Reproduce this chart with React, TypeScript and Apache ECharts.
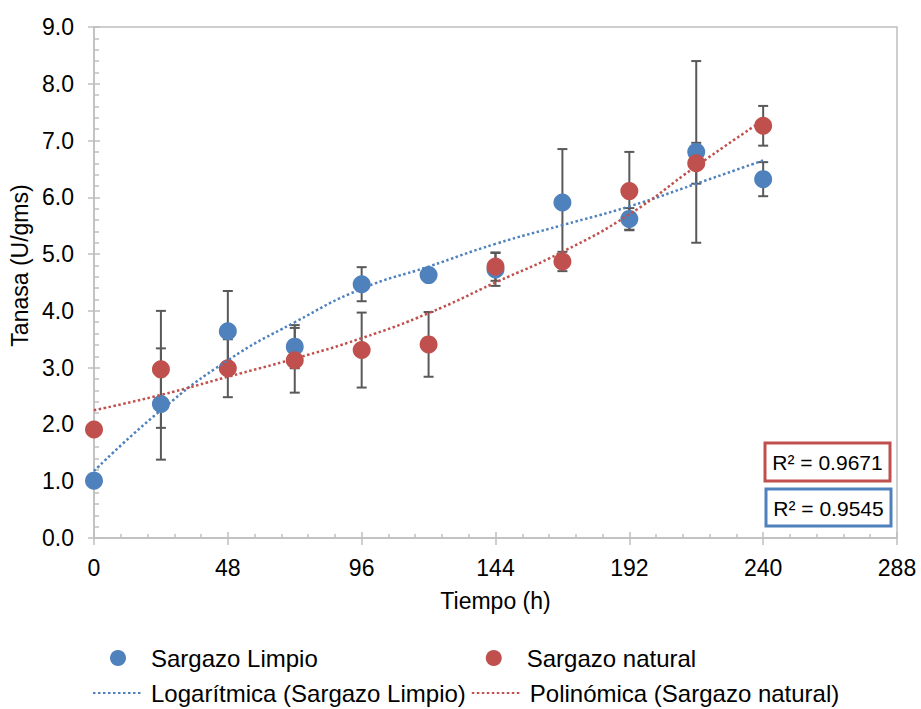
import React, { useEffect, useRef } from "react";
import * as echarts from "echarts";

const hours = [0, 24, 48, 72, 96, 120, 144, 168, 192, 216, 240];
const limpioValues = [1.01, 2.36, 3.64, 3.37, 4.47, 4.63, 4.73, 5.91, 5.62, 6.8, 6.32];
const limpioErrors = [0.05, 0.98, 0.71, 0.38, 0.3, 0.1, 0.29, 0.94, 0.19, 1.6, 0.3];
const naturalValues = [1.91, 2.97, 2.99, 3.13, 3.31, 3.41, 4.78, 4.87, 6.11, 6.6, 7.26];
const naturalErrors = [0.05, 1.03, 0.51, 0.57, 0.66, 0.57, 0.25, 0.17, 0.69, 0.36, 0.35];

// trend lines
const trendHours = [0, 24, 48, 72, 96, 120, 144, 168, 192, 216, 240];
const logTrendLimpio = [1.18, 2.25, 3.13, 3.8, 4.39, 4.78, 5.18, 5.51, 5.84, 6.24, 6.65];
const polyTrendNatural = [2.25, 2.52, 2.84, 3.16, 3.52, 3.96, 4.5, 5.04, 5.7, 6.55, 7.36];

const xTicks = { min: 0, max: 288, interval: 48 };
const yTicks = { min: 0, max: 9, interval: 1 };

const r2Natural = "R² = 0.9671";
const r2Limpio = "R² = 0.9545";

const nameLimpio = "Sargazo Limpio";
const nameNatural = "Sargazo natural";
const nameLog = "Logarítmica (Sargazo Limpio)";
const namePoly = "Polinómica (Sargazo natural)";

const BLUE = "#4F81BD";
const RED = "#C0504D";
const AXIS = "#BFBFBF";
const FONT = "'Liberation Sans', Arial, sans-serif";

function errRender(params: any, api: any) {
  const x = api.value(0);
  const y = api.value(1);
  const e = api.value(2);
  const top = api.coord([x, y + e]);
  const bot = api.coord([x, y - e]);
  const cap = 5;
  const style = { stroke: "#595959", lineWidth: 2 };
  return {
    type: "group",
    children: [
      { type: "line", shape: { x1: top[0], y1: top[1], x2: bot[0], y2: bot[1] }, style },
      { type: "line", shape: { x1: top[0] - cap, y1: top[1], x2: top[0] + cap, y2: top[1] }, style },
      { type: "line", shape: { x1: bot[0] - cap, y1: bot[1], x2: bot[0] + cap, y2: bot[1] }, style },
    ],
  };
}

export default function App() {
  const ref = useRef<HTMLDivElement>(null);
  useEffect(() => {
    if (!ref.current) return;
    const chart = echarts.init(ref.current, null, { renderer: "svg" });
    const limpioPts = hours.map((h, i) => [h, limpioValues[i]]);
    const naturalPts = hours.map((h, i) => [h, naturalValues[i]]);
    const limpioErr = hours.map((h, i) => [h, limpioValues[i], limpioErrors[i]]);
    const naturalErr = hours.map((h, i) => [h, naturalValues[i], naturalErrors[i]]);
    const logPts = trendHours.map((h, i) => [h, logTrendLimpio[i]]);
    const polyPts = trendHours.map((h, i) => [h, polyTrendNatural[i]]);

    const labelStyle = { color: "#000", fontSize: 23, fontFamily: FONT };
    const legendText = { color: "#000", fontSize: 24, fontFamily: FONT };

    chart.setOption({
      animation: false,
      backgroundColor: "#fff",
      textStyle: { fontFamily: FONT },
      grid: {
        left: 94,
        right: 24,
        top: 27,
        bottom: 171,
        show: true,
        borderColor: AXIS,
        borderWidth: 1.5,
      },
      legend: [
        {
          data: [nameLimpio, nameNatural],
          left: 110,
          top: 646,
          padding: 0,
          itemWidth: 16,
          itemHeight: 16,
          itemGap: 168,
          textStyle: { ...legendText, padding: [0, 0, 0, 20] },
        },
        {
          data: [
            { name: nameLog, itemStyle: { opacity: 0 } },
            { name: namePoly, itemStyle: { opacity: 0 } },
          ],
          left: 92,
          top: 681,
          padding: 0,
          itemWidth: 50,
          itemHeight: 16,
          itemGap: 5,
          textStyle: { ...legendText, padding: [0, 0, 0, 3] },
        },
      ],
      xAxis: [
        {
          type: "value",
          position: "bottom",
          min: xTicks.min,
          max: xTicks.max,
          interval: xTicks.interval,
          name: "Tiempo (h)",
          nameLocation: "middle",
          nameGap: 51,
          nameTextStyle: labelStyle,
          axisLine: { show: true, lineStyle: { color: AXIS, width: 1.5 } },
          axisTick: { show: true, length: 7, lineStyle: { color: AXIS, width: 1.5 } },
          axisLabel: { ...labelStyle, margin: 18 },
          splitLine: { show: false },
        },
        {
          type: "value",
          position: "bottom",
          min: xTicks.min,
          max: xTicks.max,
          interval: xTicks.interval,
          axisLine: { show: false },
          axisTick: { show: true, inside: true, length: 6, lineStyle: { color: AXIS, width: 1.5 } },
          minorTick: { show: true, splitNumber: 5, length: 4, lineStyle: { color: AXIS, width: 1.5 } },
          axisLabel: { show: false },
          splitLine: { show: false },
        },
      ],
      yAxis: [
        {
          type: "value",
          position: "left",
          min: yTicks.min,
          max: yTicks.max,
          interval: yTicks.interval,
          name: "Tanasa (U/gms)",
          nameLocation: "middle",
          nameGap: 60,
          nameTextStyle: { ...labelStyle, padding: [0, 0, 0, 34] },
          axisLine: { show: true, lineStyle: { color: AXIS, width: 1.5 } },
          axisTick: { show: true, length: 6, lineStyle: { color: AXIS, width: 1.5 } },
          axisLabel: { ...labelStyle, margin: 20, formatter: (v: number) => v.toFixed(1) },
          splitLine: { show: false },
        },
        {
          type: "value",
          position: "left",
          min: yTicks.min,
          max: yTicks.max,
          interval: yTicks.interval,
          axisLine: { show: false },
          axisTick: { show: true, inside: true, length: 6, lineStyle: { color: AXIS, width: 1.5 } },
          minorTick: { show: true, splitNumber: 5, length: 5, lineStyle: { color: AXIS, width: 1.5 } },
          axisLabel: { show: false },
          splitLine: { show: false },
        },
      ],
      series: [
        {
          name: "errLimpio",
          type: "custom",
          renderItem: errRender,
          data: limpioErr,
          encode: { x: 0, y: 1 },
          z: 1,
        },
        {
          name: "errNatural",
          type: "custom",
          renderItem: errRender,
          data: naturalErr,
          encode: { x: 0, y: 1 },
          z: 1,
        },
        {
          name: nameLimpio,
          type: "scatter",
          symbol: "circle",
          symbolSize: 18,
          itemStyle: { color: BLUE, opacity: 1 },
          data: limpioPts,
          z: 3,
        },
        {
          name: nameNatural,
          type: "scatter",
          symbol: "circle",
          symbolSize: 18,
          itemStyle: { color: RED, opacity: 1 },
          data: naturalPts,
          z: 4,
        },
        {
          name: nameLog,
          type: "line",
          smooth: true,
          symbol: "none",
          showSymbol: false,
          lineStyle: { color: BLUE, width: 2.5, type: [2.5, 2.5] },
          itemStyle: { color: BLUE },
          data: logPts,
          z: 5,
        },
        {
          name: namePoly,
          type: "line",
          smooth: true,
          symbol: "none",
          showSymbol: false,
          lineStyle: { color: RED, width: 2.5, type: [2.5, 2.5] },
          itemStyle: { color: RED },
          data: polyPts,
          z: 5,
        },
      ],
      graphic: [
        {
          type: "rect",
          x: 765,
          y: 443,
          shape: { x: 0, y: 0, width: 125, height: 38 },
          style: { fill: "#fff", stroke: RED, lineWidth: 3 },
          z: 10,
        },
        {
          type: "text",
          x: 827.5,
          y: 462,
          style: { text: r2Natural, fill: "#000", fontSize: 21, fontFamily: FONT, align: "center", verticalAlign: "middle" },
          z: 11,
        },
        {
          type: "rect",
          x: 766,
          y: 489,
          shape: { x: 0, y: 0, width: 125, height: 37 },
          style: { fill: "#fff", stroke: BLUE, lineWidth: 3 },
          z: 10,
        },
        {
          type: "text",
          x: 828.5,
          y: 508,
          style: { text: r2Limpio, fill: "#000", fontSize: 21, fontFamily: FONT, align: "center", verticalAlign: "middle" },
          z: 11,
        },
      ],
    });
    return () => chart.dispose();
  }, []);
  return (
    <div
      ref={ref}
      style={{ position: "absolute", left: 0, top: 0, width: 921, height: 709 }}
    />
  );
}
